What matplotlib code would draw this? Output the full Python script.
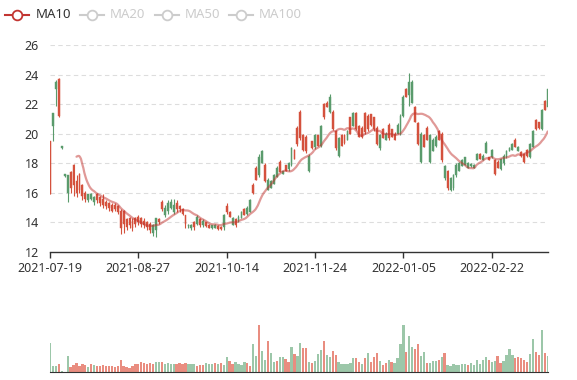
import numpy as np
import matplotlib
matplotlib.use("Agg")
import matplotlib.pyplot as plt
from matplotlib.path import Path
from matplotlib.patches import PathPatch
from matplotlib.lines import Line2D

# ---------- data ----------
tick_labels = ["2021-07-19", "2021-08-27", "2021-10-14", "2021-11-24", "2022-01-05", "2022-02-22"]
label_every = 30

opens = [
    19.5, 20.5, 23.0, 23.7, 19.05, 17.15, 16.0, 17.4, 17.9, 16.8,
    17.3, 16.5, 16.0, 15.55, 15.6, 15.4, 15.9, 15.7, 15.6, 15.4,
    15.3, 15.2, 15.2, 15.1, 14.8, 14.8, 14.2, 14.3, 14.1, 14.3,
    14.4, 14.3, 14.1, 14.0, 13.9, 13.3, 13.5, 14.2, 15.4, 14.5,
    14.8, 15.0, 14.7, 15.3, 15.1, 14.9, 14.5, 13.75, 13.6, 14.0,
    13.9, 14.2, 13.8, 14.0, 13.85, 13.6, 13.65, 13.75, 13.7, 13.7,
    15.1, 14.7, 13.8, 14.2, 14.1, 14.3, 14.9, 14.6, 14.7, 16.5,
    17.7, 17.2, 18.0, 17.9, 16.2, 16.3, 16.6, 17.1, 18.1, 17.3,
    17.9, 17.6, 17.9, 18.9, 20.4, 21.5, 19.9, 19.8, 17.5, 19.5,
    19.1, 19.9, 19.2, 22.0, 22.1, 21.5, 21.5, 20.2, 18.5, 19.9,
    19.9, 19.6, 21.1, 20.5, 21.4, 20.5, 20.4, 21.4, 21.2, 21.3,
    21.1, 20.4, 19.0, 20.3, 19.6, 20.6, 20.3, 20.0, 20.0, 20.0,
    21.2, 23.0, 22.6, 22.1, 21.8, 20.7, 18.1, 19.9, 20.4, 18.1,
    18.8, 19.2, 20.2, 20.0, 17.0, 17.5, 16.2, 16.3, 17.2, 17.5,
    17.8, 17.9, 17.7, 17.8, 17.7, 18.2, 18.6, 18.2, 18.7, 18.4,
    18.4, 18.2, 18.1, 17.6, 18.0, 18.4, 18.8, 18.9, 19.6, 18.8,
    18.75, 18.6, 18.9, 18.4, 19.1, 20.9, 20.8, 20.3, 22.2, 21.8,
]
closes = [
    15.9, 21.4, 23.5, 21.2, 19.2, 17.25, 17.2, 16.3, 16.5, 16.0,
    16.2, 15.8, 15.6, 15.9, 15.9, 15.7, 15.5, 15.3, 15.2, 15.1,
    15.0, 14.8, 14.9, 14.7, 13.6, 13.9, 13.7, 13.8, 13.6, 13.9,
    14.0, 13.9, 13.8, 13.7, 13.5, 13.8, 14.3, 14.0, 14.9, 15.0,
    15.3, 15.4, 15.2, 14.9, 14.9, 14.6, 13.9, 13.85, 13.8, 13.7,
    14.4, 13.8, 14.1, 13.75, 13.65, 13.8, 13.85, 13.55, 13.55, 14.5,
    14.7, 14.4, 14.3, 13.8, 14.4, 14.7, 14.5, 15.0, 15.5, 16.0,
    16.9, 18.4, 18.8, 16.8, 16.9, 16.8, 17.2, 17.7, 17.4, 17.5,
    17.5, 18.0, 19.0, 18.3, 19.3, 19.7, 18.9, 18.8, 18.5, 19.0,
    19.9, 19.2, 20.5, 21.1, 21.8, 22.5, 20.3, 19.0, 19.7, 19.2,
    19.4, 20.2, 20.0, 21.4, 20.3, 19.8, 19.8, 20.1, 20.3, 20.6,
    20.3, 19.3, 19.9, 19.7, 20.0, 19.7, 19.8, 19.6, 20.6, 21.2,
    22.5, 22.5, 23.5, 23.5, 20.8, 19.3, 20.0, 19.1, 19.6, 19.9,
    19.6, 19.8, 19.6, 18.2, 17.8, 16.3, 17.0, 17.2, 17.9, 18.0,
    18.2, 18.4, 18.0, 17.95, 17.9, 18.6, 18.3, 18.5, 19.4, 18.2,
    18.9, 17.3, 17.7, 18.3, 18.5, 18.8, 19.0, 19.3, 19.1, 19.1,
    18.5, 18.1, 18.5, 19.3, 20.2, 20.3, 20.4, 21.6, 21.6, 23.0,
]
lows = [
    15.9, 19.5, 21.9, 21.1, 19.0, 17.1, 15.4, 16.0, 15.8, 15.7,
    16.0, 15.5, 15.4, 15.4, 15.5, 15.2, 15.3, 15.1, 15.0, 14.9,
    14.8, 14.7, 14.8, 14.6, 13.2, 13.3, 13.5, 13.6, 13.4, 13.7,
    13.8, 13.7, 13.6, 13.5, 13.3, 13.1, 13.0, 13.9, 14.8, 14.4,
    14.6, 14.9, 14.6, 14.7, 14.7, 14.5, 13.6, 13.6, 13.5, 13.5,
    13.8, 13.7, 13.7, 13.7, 13.6, 13.55, 13.6, 13.5, 13.5, 13.5,
    14.6, 14.4, 13.8, 13.7, 14.05, 14.3, 14.5, 14.5, 14.7, 15.9,
    16.9, 17.1, 18.0, 16.75, 16.2, 16.3, 16.6, 17.1, 17.4, 17.3,
    17.5, 17.5, 17.8, 18.3, 19.2, 19.6, 18.8, 18.7, 17.4, 19.0,
    19.0, 19.2, 19.1, 21.0, 21.8, 21.4, 20.25, 18.9, 18.45, 19.2,
    19.3, 19.6, 20.0, 20.5, 20.25, 19.8, 19.7, 20.0, 20.2, 20.5,
    20.2, 19.25, 18.9, 19.7, 19.6, 19.6, 19.8, 19.6, 20.0, 19.9,
    21.15, 22.5, 21.9, 22.05, 20.8, 19.25, 18.0, 19.1, 19.6, 18.0,
    18.8, 19.1, 19.6, 18.1, 16.9, 16.2, 16.1, 16.2, 17.1, 17.5,
    17.8, 17.9, 17.7, 17.75, 17.7, 18.2, 18.3, 18.2, 18.7, 18.2,
    18.35, 17.2, 17.7, 17.55, 17.9, 18.35, 18.8, 18.9, 19.1, 18.8,
    18.45, 18.0, 18.45, 18.35, 19.1, 20.25, 20.35, 20.25, 21.6, 21.7,
]
highs = [
    19.5, 21.4, 23.6, 23.75, 19.2, 17.3, 17.2, 17.45, 17.95, 17.2,
    17.35, 16.6, 16.1, 15.95, 16.0, 15.8, 16.0, 15.8, 15.9, 15.5,
    15.4, 15.3, 15.3, 15.2, 14.9, 14.85, 14.3, 14.4, 14.3, 14.4,
    14.5, 14.35, 14.3, 14.1, 14.0, 13.9, 14.3, 14.3, 15.5, 15.2,
    15.5, 15.6, 15.6, 15.5, 15.2, 15.0, 14.5, 13.9, 13.9, 14.1,
    14.5, 14.3, 14.2, 14.05, 13.9, 13.85, 13.9, 13.8, 13.75, 14.6,
    15.3, 14.75, 14.4, 14.3, 14.5, 14.8, 14.95, 15.1, 15.6, 16.7,
    17.8, 18.6, 18.9, 18.0, 17.0, 16.9, 17.3, 17.8, 18.2, 17.5,
    17.9, 18.1, 19.1, 19.0, 20.5, 21.6, 20.0, 19.9, 18.6, 19.5,
    20.0, 19.9, 20.6, 22.1, 22.2, 22.7, 21.6, 20.25, 19.8, 20.0,
    20.0, 20.25, 21.15, 21.5, 21.5, 20.6, 20.5, 21.5, 21.3, 21.3,
    21.15, 20.5, 20.0, 20.4, 20.1, 20.7, 20.35, 20.1, 20.7, 21.3,
    22.6, 23.1, 24.1, 23.6, 21.9, 20.8, 20.1, 20.0, 20.5, 20.0,
    19.7, 19.9, 20.25, 20.1, 17.9, 17.55, 17.1, 17.3, 18.0, 18.1,
    18.3, 18.45, 18.1, 18.0, 17.95, 18.7, 18.7, 18.6, 19.5, 18.45,
    19.0, 18.3, 18.2, 18.35, 18.6, 18.9, 19.1, 19.35, 19.7, 19.2,
    18.8, 18.7, 19.0, 19.35, 20.25, 21.0, 20.8, 21.7, 22.3, 23.1,
]
volumes = [
    29.3, 6.3, 6.3, 8, 1.3, 0, 16, 4.7, 7, 9,
    6.3, 7.7, 7, 5, 8, 7, 6, 6, 7, 6.3,
    6.3, 6.3, 4.7, 6.3, 12, 6, 4.7, 4, 6, 8,
    8, 10, 9, 8, 8.7, 8.3, 9.7, 10, 10, 8,
    9, 8.3, 8, 8, 9, 8, 9, 7.7, 7.7, 7.7,
    6.3, 7, 7.3, 8.7, 8.3, 8, 9, 8, 9, 6.7,
    15, 11, 8, 10, 8, 6.7, 10, 9.3, 6.3, 28.3,
    16, 47, 21, 11.7, 31, 19.3, 9.7, 11, 15, 15,
    12.7, 10, 25, 18.3, 16.3, 28.7, 24, 24, 10.3, 9.3,
    11.3, 18.3, 21.7, 31, 17, 15, 21.3, 17, 9.7, 7.7,
    8, 8.5, 9.3, 13.7, 13.7, 10, 8, 13.7, 19.3, 10,
    15, 19, 11, 7.3, 9.3, 12, 10.3, 9, 13.7, 28.3,
    47, 19.7, 35.7, 25.3, 23, 28.3, 16, 20, 9.3, 8.7,
    11, 11, 12.3, 15, 19.3, 7, 6, 8.3, 7.5, 7,
    8.3, 8.3, 7.3, 8.7, 7.3, 12.3, 7.7, 12, 15, 12,
    10, 11, 16.3, 9, 11.3, 17.3, 23, 17, 14, 15,
    13.7, 12, 10.3, 18.3, 33.3, 20, 17.3, 42, 19, 16.3,
]
# 1 = green (rising) volume bar, 0 = red
volume_up = [
    1, 1, 1, 0, 1, 1, 1, 0, 0, 0,
    0, 0, 0, 1, 0, 1, 0, 0, 0, 0,
    0, 0, 0, 0, 0, 0, 0, 0, 0, 0,
    0, 0, 0, 0, 0, 0, 1, 1, 0, 1,
    1, 1, 1, 0, 0, 0, 0, 1, 1, 1,
    0, 0, 0, 1, 1, 1, 0, 1, 0, 1,
    1, 0, 0, 1, 1, 1, 1, 0, 0, 1,
    1, 0, 1, 1, 0, 1, 1, 0, 1, 1,
    0, 0, 1, 0, 1, 1, 0, 0, 1, 0,
    1, 1, 1, 0, 1, 1, 0, 0, 1, 1,
    1, 1, 1, 1, 0, 0, 1, 0, 1, 0,
    0, 0, 1, 0, 0, 1, 0, 1, 1, 1,
    1, 0, 1, 1, 0, 0, 1, 1, 0, 1,
    1, 1, 0, 1, 0, 1, 1, 1, 1, 1,
    1, 1, 0, 1, 1, 1, 1, 1, 1, 0,
    1, 1, 0, 0, 1, 1, 1, 1, 0, 0,
    0, 0, 0, 1, 1, 0, 0, 1, 0, 1,
]

ma_window = 10

# ---------- style ----------
W, H = 577, 380
UP_COLOR = "#5a9b6c"
DOWN_COLOR = "#d4513d"
UP_VOL = "#9cc7a9"
DOWN_VOL = "#e98d80"
MA_COLOR = "#c23531"
TEXT = "#333333"
GRID = "#dddddd"

plt.rcParams["font.family"] = ["Noto Sans", "DejaVu Sans"]

fig = plt.figure(figsize=(W / 100, H / 100), dpi=100)


def px_axes(left, top, right, bottom):
    return fig.add_axes([left / W, 1 - bottom / H, (right - left) / W, (bottom - top) / H])


def smooth_path(xs, ys, sx, sy, smooth=0.5):
    # echarts-like bezier smoothing, computed in pixel space
    p = np.column_stack([np.asarray(xs) * sx, np.asarray(ys) * sy])
    n = len(p)
    cp_in = p.copy()
    cp_out = p.copy()
    for i in range(1, n - 1):
        v = p[i + 1] - p[i - 1]
        d0 = np.hypot(*(p[i] - p[i - 1]))
        d1 = np.hypot(*(p[i + 1] - p[i]))
        r = d1 / (d0 + d1)
        cp_out[i] = p[i] + v * smooth * r
        cp_in[i] = p[i] - v * smooth * (1 - r)
    verts = [p[0]]
    codes = [Path.MOVETO]
    for i in range(n - 1):
        verts += [cp_out[i], cp_in[i + 1], p[i + 1]]
        codes += [Path.CURVE4] * 3
    verts = np.array(verts) / [sx, sy]
    return Path(verts, codes)


n = len(closes)
idx = np.arange(n)
o = np.array(opens)
c = np.array(closes)
lo = np.array(lows)
hi = np.array(highs)
up = c >= o

# ---------- main candlestick panel ----------
ax = px_axes(50, 45, 547.7, 252)
ax.set_xlim(0, n - 1)
ax.set_ylim(12, 26)

ax.set_yticks(np.arange(12, 27, 2))
for y in np.arange(14, 27, 2):
    ax.axhline(y, color=GRID, lw=0.8, ls=(0, (4, 3)), zorder=0)

colors = np.where(up, UP_COLOR, DOWN_COLOR)
ax.vlines(idx, lo, hi, colors=colors, lw=0.8, zorder=2)
body_lo = np.minimum(o, c)
body_h = np.maximum(np.abs(c - o), 0.04)
ax.bar(idx, body_h, bottom=body_lo, width=0.62, color=colors,
       edgecolor=colors, linewidth=0.3, zorder=3)

# moving average
ma = np.convolve(c, np.ones(ma_window) / ma_window, mode="valid")
ma_x = idx[ma_window - 1:]
sx = 497.7 / (n - 1)
sy = 207 / 14
ax.add_patch(PathPatch(smooth_path(ma_x, ma, sx, sy), facecolor="none",
                       edgecolor=MA_COLOR, lw=1.6, alpha=0.5, zorder=4,
                       capstyle="round", joinstyle="round"))

for side in ["top", "right", "left"]:
    ax.spines[side].set_visible(False)
ax.spines["bottom"].set_color(TEXT)
ax.spines["bottom"].set_linewidth(1)
ax.tick_params(axis="y", length=0, pad=8, labelsize=9, labelcolor=TEXT)
ax.set_xticks(idx[::label_every])
ax.set_xticklabels(tick_labels)
ax.tick_params(axis="x", length=4, width=1, color=TEXT, pad=3,
               labelsize=9, labelcolor=TEXT)

# ---------- volume panel ----------
vax = px_axes(50, 320, 547.7, 372)
vax.set_xlim(0, n - 1)
vax.set_ylim(0, 52)
vcolors = np.where(np.array(volume_up) == 1, UP_VOL, DOWN_VOL)
vax.bar(idx, volumes, width=0.78, color=vcolors, edgecolor="none", zorder=2)
for side in ["top", "right", "left"]:
    vax.spines[side].set_visible(False)
vax.spines["bottom"].set_color(TEXT)
vax.set_xticks([])
vax.set_yticks([])

# ---------- legend ----------
legend_items = [("MA10", 5, 36, MA_COLOR, TEXT),
                ("MA20", 80, 110, "#cccccc", "#cccccc"),
                ("MA50", 155, 185, "#cccccc", "#cccccc"),
                ("MA100", 229, 259, "#cccccc", "#cccccc")]
ly = 1 - 15 / H
for name, x0, tx, lc, tc in legend_items:
    fig.add_artist(Line2D([x0 / W, (x0 + 24) / W], [ly, ly], color=lc, lw=1.5))
    fig.add_artist(Line2D([(x0 + 12) / W], [ly], marker="o", ms=7,
                          markerfacecolor="white", markeredgecolor=lc, mew=1.3))
    fig.text(tx / W, ly, name, color=tc, fontsize=9.5, va="center", ha="left")

fig.savefig("out.png", dpi=100)
